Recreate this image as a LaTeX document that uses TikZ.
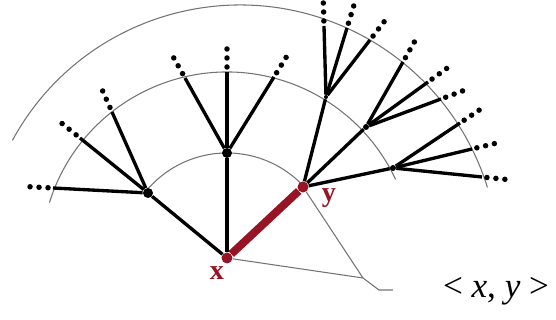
\documentclass[tikz,border=0pt]{standalone}
\usepackage{fontspec}
\setmainfont{Liberation Serif}
\usetikzlibrary{calc}
\definecolor{edgered}{RGB}{150,20,35}

\begin{document}
\begin{tikzpicture}[x=0.02cm,y=0.02cm,
  branch/.style={line width=1.9pt},
  ring/.style={black!55,line width=0.6pt},
  hub/.style={circle,fill,inner sep=0pt,minimum size=0.2cm},
  lbl/.style={text=edgered,font=\bfseries\fontsize{16}{16}\selectfont}]
  \useasboundingbox (0,0) rectangle (556,320);
  % level circles around x
  \draw[ring] ($(240,56)+(151.5:259)$) arc[start angle=151.5,end angle=17.2,radius=259];
  \draw[ring] ($(227,62)+(162.7:186)$) arc[start angle=162.7,end angle=25,radius=186];
  \draw[ring] ($(227,62)+(141:105)$) arc[start angle=141,end angle=43,radius=105];
  % junctions
  \node[hub,edgered,minimum size=0.22cm] (X) at (227,62) {};
  \node[hub,edgered,minimum size=0.22cm] (Y) at (303,133) {};
  \node[hub] (A) at (148,127) {};
  \node[hub] (B) at (227,167) {};
  \node[hub,minimum size=0.08cm] (C1) at (326,223) {};
  \node[hub,minimum size=0.12cm] (C2) at (366,193) {};
  \node[hub,minimum size=0.12cm] (C3) at (393,152) {};
  % open ends
  \coordinate (a1) at (53,132);
  \coordinate (a2) at (80,182);
  \coordinate (a3) at (112,208);
  \coordinate (b1) at (185,242);
  \coordinate (b2) at (227,248);
  \coordinate (b3) at (274,243);
  \coordinate (c11) at (324,294);
  \coordinate (c12) at (347,292);
  \coordinate (c13) at (370,280);
  \coordinate (c21) at (403,258);
  \coordinate (c22) at (428,238);
  \coordinate (c23) at (441,221);
  \coordinate (c31) at (460,197);
  \coordinate (c32) at (472,171);
  \coordinate (c33) at (482,143);
  \draw[branch] (X) -- (A);
  \draw[branch] (X) -- (B);
  \draw[branch] (Y) -- (C1);
  \draw[branch] (Y) -- (C2);
  \draw[branch] (Y) -- (C3);
  \foreach \p/\t in {A/a1,A/a2,A/a3,B/b1,B/b2,B/b3,C1/c11,C1/c12,C1/c13,
                     C2/c21,C2/c22,C2/c23,C3/c31,C3/c32,C3/c33}{
    \draw[branch] (\p) -- (\t);
    \foreach \k in {0,1,2}
      \fill ($(\t)!-0.1cm-\k*0.18cm!(\p)$) circle (0.055cm);
  }
  \draw[edgered,line width=4.5pt] (X) -- (Y);
  % the pair
  \coordinate (v) at (363,42);
  \coordinate (w) at (379,30);
  \coordinate (w2) at (393,30);
  \draw[ring] (X) -- (v) -- (w) -- (w2);
  \draw[ring] (Y) -- (v);
  \node[font=\fontsize{20}{20}\selectfont] (pair) at (496,29) {< \textit{x}, \textit{y} >};
  \node[lbl] (xl) at (217,47) {x};
  \node[lbl] (yl) at (329,122) {y};
\end{tikzpicture}
\end{document}
